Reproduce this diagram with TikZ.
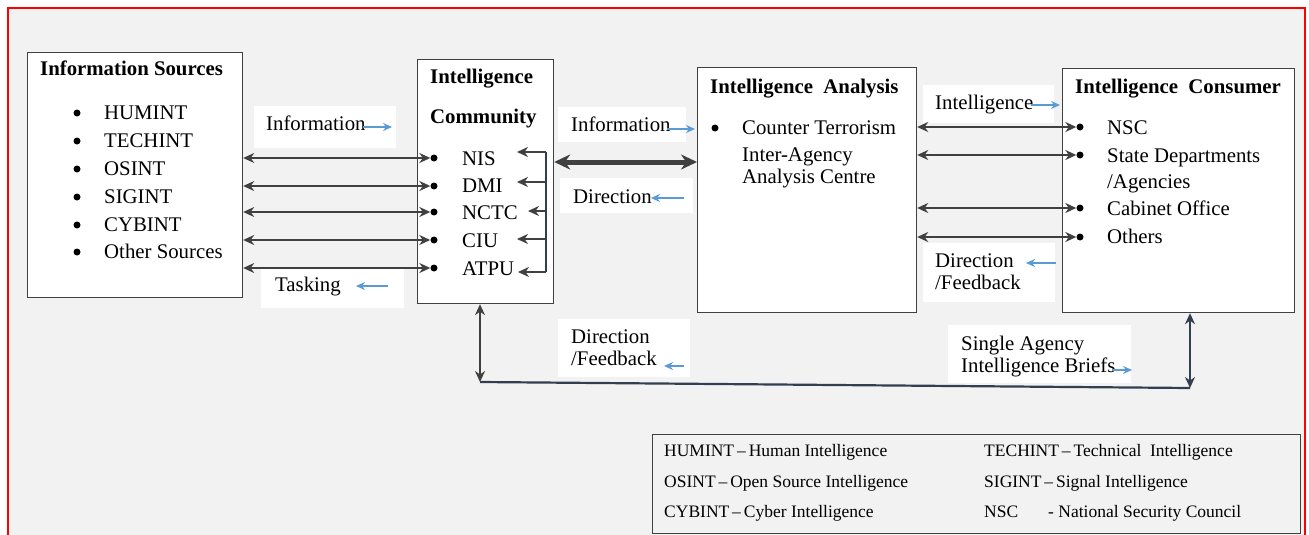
\documentclass[tikz,border=0pt]{standalone}
\usepackage{fontspec}
\setmainfont{Liberation Serif}
\usetikzlibrary{arrows.meta}
\definecolor{bg}{HTML}{F2F2F2}
\definecolor{edge}{HTML}{404040}
\definecolor{arr}{HTML}{404040}
\definecolor{blu}{HTML}{5B9BD5}
\definecolor{navy}{HTML}{333F50}
\begin{document}
\begin{tikzpicture}[x=1pt,y=-1pt,
  box/.style={draw=edge, line width=1.2pt, fill=white, inner sep=0pt, anchor=north west},
  txt/.style={anchor=base west, inner sep=0pt, font=\fontsize{20.8}{24}\selectfont},
  ttl/.style={anchor=base west, inner sep=0pt, font=\fontsize{20.8}{24}\selectfont\bfseries},
  lg/.style={anchor=base west, inner sep=0pt, font=\fontsize{17.5}{20}\selectfont},
  dot/.style={circle, fill=black, inner sep=0pt, minimum size=7pt},
  dbl/.style={draw=arr, line width=2.2pt, {Stealth[length=11pt,width=10pt]}-{Stealth[length=11pt,width=10pt]}},
  sgl/.style={draw=arr, line width=2.2pt, -{Stealth[length=11pt,width=10pt]}},
  barr/.style={draw=blu, line width=1.4pt, -{Stealth[length=9pt,width=8pt]}},
  lblbg/.style={fill=white}
]
\useasboundingbox (0,0) rectangle (1309,535);
% frame
\fill[bg] (8,8) rectangle (1305,545);
\draw[red, line width=2pt] (8,545) -- (8,8) -- (1305,8) -- (1305,545);

% label backgrounds
\fill[lblbg] (254,106) rectangle (396,148);
\fill[lblbg] (261,268) rectangle (404,308);
\fill[lblbg] (558,107) rectangle (686,142);
\fill[lblbg] (560,178) rectangle (693,213);
\fill[lblbg] (923,85) rectangle (1054,123);
\fill[lblbg] (923,243) rectangle (1055,302);
\fill[lblbg] (948,325) rectangle (1131,383);
\fill[lblbg] (558,319) rectangle (690,377);

% boxes
\node[box, minimum width=215pt, minimum height=245pt] (src) at (27,52) {};
\node[box, minimum width=136pt, minimum height=244pt] (ic) at (417,59) {};
\node[box, minimum width=219pt, minimum height=245pt] (ana) at (697,67) {};
\node[box, minimum width=232pt, minimum height=244pt] (con) at (1062,68) {};

% Information Sources
\node[ttl] (srct) at (40,76) {Information Sources};
\foreach \n/\t/\y in {s1/HUMINT/119, s2/TECHINT/147, s3/OSINT/175, s4/SIGINT/203, s5/CYBINT/231, s6/Other Sources/258}{
  \node[dot] (d\n) at (77,\y-6) {};
  \node[txt] (\n) at (104,\y) {\t};
}

% Intelligence Community
\node[ttl] (ict1) at (430,83) {Intelligence};
\node[ttl] (ict2) at (430,123) {Community};
\node[txt] (nis) at (462,165) {NIS};
\node[txt] (dmi) at (462,192) {DMI};
\node[txt] (nctc) at (462,219) {NCTC};
\node[txt] (ciu) at (462,247) {CIU};
\node[txt] (atpu) at (462,275) {ATPU};
\node[dot] (b1) at (434,158) {};
\node[dot] (b2) at (434,186) {};
\node[dot] (b3) at (434,212) {};
\node[dot] (b4) at (434,240) {};
\node[dot] (b5) at (434,268) {};
\foreach \b in {b1,b2,b3,b4,b5}{
  \draw[dbl] (src.east |- \b) -- (\b.west);
}
% bracket
\coordinate (brt) at (546,152);
\coordinate (brb) at (546,272);
\draw[draw=navy, line width=1.8pt] (brt) -- (brb);
\coordinate (k1) at (517,152);
\coordinate (k2) at (517,182);
\coordinate (k3) at (528,211);
\coordinate (k4) at (517,239);
\coordinate (k5) at (518,272);
\foreach \k in {k1,k2,k3,k4,k5}{
  \draw[sgl] (brt |- \k) -- (\k);
}

% thick arrow IC <-> Analysis
\draw[draw=arr, line width=5pt, {Stealth[length=16pt,width=15pt]}-{Stealth[length=16pt,width=15pt]}] (ic.east |- 0,162) -- (ana.west |- 0,162);

% Intelligence Analysis
\node[ttl] (anat) at (710,93) {Intelligence\ \ Analysis};
\node[dot] (ab) at (715,128) {};
\node[txt] (an1) at (742,134) {Counter Terrorism};
\node[txt] (an2) at (742,161) {Inter-Agency};
\node[txt] (an3) at (742,183) {Analysis Centre};

% Intelligence Consumer
\node[ttl] (cont) at (1075,93) {Intelligence\ \ Consumer};
\node[txt] (c1) at (1107,134) {NSC};
\node[txt] (c2) at (1107,162) {State Departments};
\node[txt] (c2b) at (1107,188) {/Agencies};
\node[txt] (c3) at (1107,215) {Cabinet Office};
\node[txt] (c4) at (1107,243) {Others};
\node[dot] (e1) at (1080,127) {};
\node[dot] (e2) at (1080,155) {};
\node[dot] (e3) at (1080,208) {};
\node[dot] (e4) at (1080,237) {};
\foreach \e in {e1,e2,e3,e4}{
  \draw[dbl] (ana.east |- \e) -- (\e.west);
}

% bottom connectors
\coordinate (bl) at (480,382);
\coordinate (br) at (1190,388);
\draw[dbl] (bl |- ic.south) -- (bl);
\draw[draw=navy, line width=2.2pt] (bl) -- (br);
\draw[dbl, draw=navy] (br |- con.south) -- (br);

% labels
\node[txt] (l1) at (266,130) {Information};
\node[txt] (l2) at (275,291) {Tasking};
\node[txt] (l3) at (571,131) {Information};
\node[txt] (l4) at (573,203) {Direction};
\node[txt] (l5) at (935,109) {Intelligence};
\node[txt] (l6) at (935,267) {Direction};
\node[txt] (l6b) at (935,289) {/Feedback};
\node[txt] (l7) at (961,350) {Single Agency};
\node[txt] (l7b) at (961,372) {Intelligence Briefs};
\node[txt] (l8) at (571,343) {Direction};
\node[txt] (l8b) at (571,365) {/Feedback};

% blue direction arrows
\coordinate (p1a) at (363,127); \coordinate (p1b) at (392,127);
\coordinate (p2a) at (388,286); \coordinate (p2b) at (356,286);
\coordinate (p3a) at (667,129); \coordinate (p3b) at (695,129);
\coordinate (p4a) at (684,198); \coordinate (p4b) at (651,198);
\coordinate (p5a) at (1031,105); \coordinate (p5b) at (1060,105);
\coordinate (p6a) at (1056,263); \coordinate (p6b) at (1026,263);
\coordinate (p7a) at (1112,370); \coordinate (p7b) at (1132,370);
\coordinate (p8a) at (684,366); \coordinate (p8b) at (664,366);
\foreach \p in {p1,p2,p3,p4,p5,p6,p7,p8}{
  \draw[barr] (\p a) -- (\p b);
}

% legend
\node[draw=edge, line width=1.2pt, fill=bg, inner sep=0pt, anchor=north west, minimum width=648pt, minimum height=99pt] (leg) at (652,434) {};
\node[lg] (g1) at (664,456) {HUMINT\,–\,Human Intelligence};
\node[lg] (g2) at (984,456) {TECHINT\,–\,Technical\ \ Intelligence};
\node[lg] (g3) at (664,487) {OSINT\,–\,Open Source Intelligence};
\node[lg] (g4) at (984,487) {SIGINT\,–\,Signal Intelligence};
\node[lg] (g5) at (664,517) {CYBINT\,–\,Cyber Intelligence};
\node[lg] (g6) at (984,517) {NSC};
\node[lg] (g6b) at (1048,517) {- National Security Council};
\end{tikzpicture}
\end{document}
